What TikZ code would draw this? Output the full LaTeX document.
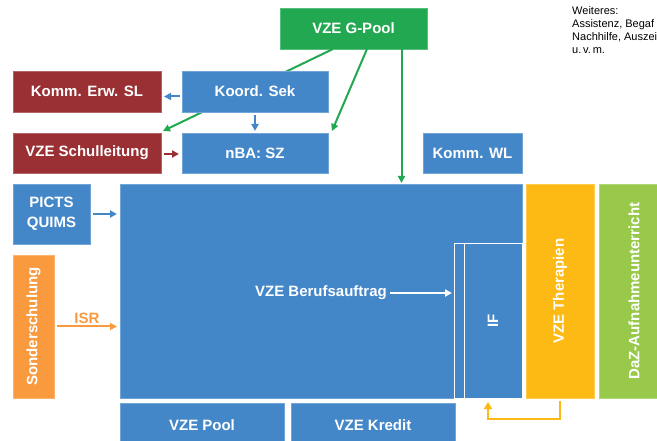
\documentclass[tikz,border=0pt]{standalone}
\usepackage{fontspec}
\setmainfont{Liberation Sans}
\usetikzlibrary{arrows.meta,calc}

\definecolor{vzeblue}{RGB}{67,135,201}
\definecolor{vzered}{RGB}{154,48,51}
\definecolor{vzegreen}{RGB}{33,168,80}
\definecolor{vzeorange}{RGB}{250,154,62}
\definecolor{vzeyellow}{RGB}{253,185,20}
\definecolor{vzelime}{RGB}{152,201,74}

\tikzset{
  box/.style={anchor=north west, inner sep=0pt, outer sep=0pt,
    font=\fontsize{15}{17}\selectfont\bfseries, text=white},
  bluebox/.style={box, fill=vzeblue, draw=vzeblue!75!white, line width=0.5pt},
  redbox/.style={box, fill=vzered, draw=vzered!75!white, line width=0.5pt},
  boxtext/.style={text=white, font=\fontsize{15}{17}\selectfont\bfseries},
  link/.style={line width=2pt, -{Triangle[length=7pt,width=7pt]}},
}

\begin{document}
\begin{tikzpicture}[x=1pt,y=-1pt]
  \useasboundingbox (0,0) rectangle (657,441);
  {
  % Drawing top boxes
  \node[box, fill=vzegreen, draw=vzegreen!75!white, line width=0.5pt,
    minimum width=147pt, minimum height=41pt] (gpool) at (280,8) {VZE G-Pool};
  \node[redbox, minimum width=148pt, minimum height=41pt] (kommerw) at (13,71) {Komm. Erw. SL};
  \node[redbox, minimum width=148pt, minimum height=40pt] (schulleitung) at (13,133) {VZE Schulleitung};
  \node[bluebox, minimum width=146pt, minimum height=40pt] (nba) at (182,133) {nBA: SZ};
  \node[bluebox, minimum width=99pt, minimum height=40pt] (kommwl) at (423,133) {Komm. WL};

  % Drawing text Weiteres
  \node[anchor=north west, inner sep=0pt, align=left,
    font=\fontsize{11}{13}\selectfont] (weiteres) at (572,6)
    {Weiteres:\\Assistenz, Begaf\\Nachhilfe, Auszei\\u.\,v.\,m.};

  % Drawing left boxes
  \node[bluebox, minimum width=77pt, minimum height=60pt, align=center,
    font=\fontsize{15}{20}\selectfont\bfseries] (picts) at (13,184) {PICTS\\QUIMS};
  \node[box, fill=vzeorange, draw=vzeorange!75!white, line width=0.5pt,
    minimum width=41pt, minimum height=143pt] (sonder) at (13,255) {};
  \node[boxtext, rotate=90] at (sonder.center) {Sonderschulung};

  % Drawing big box and inner box IF
  \node[bluebox, minimum width=402pt, minimum height=214pt] (beruf) at (120,184) {};
  \node[anchor=north west, inner sep=0pt, outer sep=0pt, draw=white, line width=1pt,
    minimum width=68pt, minimum height=154pt] (inner) at (454,244) {};
  \draw[white, line width=1pt] ([xshift=10pt]inner.north west) -- ([xshift=10pt]inner.south west);
  \node[boxtext, rotate=90] (if) at (493,321) {IF};
  \node[boxtext, inner sep=1pt] (berufstext) at (321,293) {VZE Berufsauftrag};

  % Drawing right boxes
  \node[box, fill=vzeyellow, draw=vzeyellow!75!white, line width=0.5pt,
    minimum width=68pt, minimum height=214pt] (therapien) at (526,184) {};
  \node[boxtext, rotate=90] at (therapien.center) {VZE Therapien};
  \node[box, fill=vzelime, draw=vzelime!75!white, line width=0.5pt,
    minimum width=60pt, minimum height=214pt] (daz) at (599,184) {};
  \node[boxtext, rotate=90] at (634,291) {DaZ-Aufnahmeunterricht};

  % Drawing bottom boxes
  \node[bluebox, minimum width=164pt, minimum height=42pt] (pool) at (120,403) {};
  \node[boxtext] at (202,425) {VZE Pool};
  \node[bluebox, minimum width=164pt, minimum height=42pt] (kredit) at (291,403) {};
  \node[boxtext] at (373,425) {VZE Kredit};

  % Drawing green arrows from G-Pool (first one runs behind Koord. Sek)
  \draw[link, vzegreen] ([xshift=53pt]gpool.south west) -- ([shift={(2pt,2pt)}]schulleitung.north east);
  \node[bluebox, minimum width=146pt, minimum height=41pt] (koord) at (182,71) {Koord. Sek};
  \draw[link, vzegreen] ([xshift=87pt]gpool.south west) -- ([shift={(4pt,2pt)}]nba.north east);
  \draw[link, vzegreen] ([xshift=48pt]gpool.south) -- ([xshift=48pt,yshift=1pt]gpool.south |- beruf.north);

  % Drawing blue and red arrows
  \draw[link, vzeblue, shorten <=2pt, shorten >=3pt] ([yshift=-5pt]koord.west) -- ([yshift=-5pt]kommerw.east);
  \draw[link, vzeblue, shorten <=3pt, shorten >=2pt] (koord.south) -- (nba.north);
  \draw[link, vzered, shorten <=3pt, shorten >=3pt] ([yshift=-1pt]schulleitung.east) -- ([yshift=-1pt]nba.west);
  \draw[link, vzeblue, shorten <=3pt, shorten >=3pt] (picts.east) -- (picts.east -| beruf.west);
  \draw[link, vzeorange, shorten <=3pt, shorten >=3pt] (sonder.east) -- node[above=-1pt, font=\fontsize{15}{17}\selectfont\bfseries] {ISR} (sonder.east -| beruf.west);

  % Drawing white and yellow arrows
  \draw[link, white, shorten <=2pt, shorten >=2pt] (berufstext.east) -- (berufstext.east -| inner.west);
  \draw[link, vzeyellow, -{Triangle[length=7pt,width=8pt]}] ([yshift=-3pt]therapien.south) -- ++(0,18) -| ([yshift=-4pt]inner.south);
  }
\end{tikzpicture}
\end{document}
